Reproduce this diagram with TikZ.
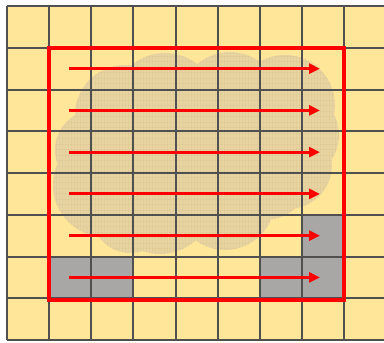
\documentclass[tikz,border=0pt]{standalone}
\usetikzlibrary{arrows.meta}
\definecolor{cellyellow}{HTML}{FFE699}
\definecolor{gridgray}{HTML}{505050}
\definecolor{cellgray}{HTML}{A9A6A6}
\definecolor{cloudtan}{HTML}{E8D4A0}
\definecolor{cloudline}{HTML}{C4AD78}
\definecolor{redline}{HTML}{FF0000}
\tikzset{
  gridline/.style={draw=gridgray, line width=2pt},
  grayblock/.style={fill=cellgray},
  boundary/.style={draw=redline, line width=4.2pt},
  flowarrow/.style={draw=redline, line width=3pt, -{Triangle[length=11pt,width=10pt]}},
}
\newcommand{\cloudpath}{(125,115) circle[radius=50pt] (165,105) circle[radius=52pt]
  (230,102) circle[radius=50pt] (285,105) circle[radius=50pt]
  (295,135) circle[radius=44pt] (288,165) circle[radius=44pt]
  (265,175) circle[radius=45pt] (225,200) circle[radius=50pt]
  (160,200) circle[radius=54pt] (130,215) circle[radius=38pt]
  (105,185) circle[radius=52pt] (95,150) circle[radius=40pt]
  (200,150) circle[radius=70pt]}
\begin{document}
\begin{tikzpicture}[x=1pt,y=-1pt]
\useasboundingbox (0,0) rectangle (384,343);
\fill[white] (0,0) rectangle (384,343);
\fill[cellyellow] (7,6) rectangle (384,340);
% gray cells
\fill[grayblock] (49,258) rectangle (133,300);
\fill[grayblock] (260,258) rectangle (344,300);
\fill[grayblock] (302,215) rectangle (344,258);
% cloud
\fill[cloudtan] \cloudpath;
\begin{scope}
  \clip \cloudpath;
  \foreach \k in {0,...,100} {
    \draw[cloudline, opacity=0.15, line width=0.4pt] (50+3*\k,45) -- (50+3*\k,260);
  }
  \foreach \k in {0,...,40} {
    \draw[cloudline, opacity=0.12, line width=0.6pt] (50,45+5.5*\k) -- (345,45+5.5*\k);
  }
\end{scope}
% grid
\foreach \i in {0,...,8} {
  \draw[gridline] (7+42.125*\i,6) -- (7+42.125*\i,340);
}
\foreach \j in {0,...,8} {
  \draw[gridline] (7,6+41.75*\j) -- (384,6+41.75*\j);
}
% red boundary
\draw[boundary] (49,48) rectangle (344,300);
% arrows
\foreach \j in {1,...,6} {
  \coordinate (s\j) at (69,6+41.75*\j+20.9);
  \coordinate (e\j) at (320,6+41.75*\j+20.9);
  \draw[flowarrow] (s\j) -- (e\j);
}
\end{tikzpicture}
\end{document}
